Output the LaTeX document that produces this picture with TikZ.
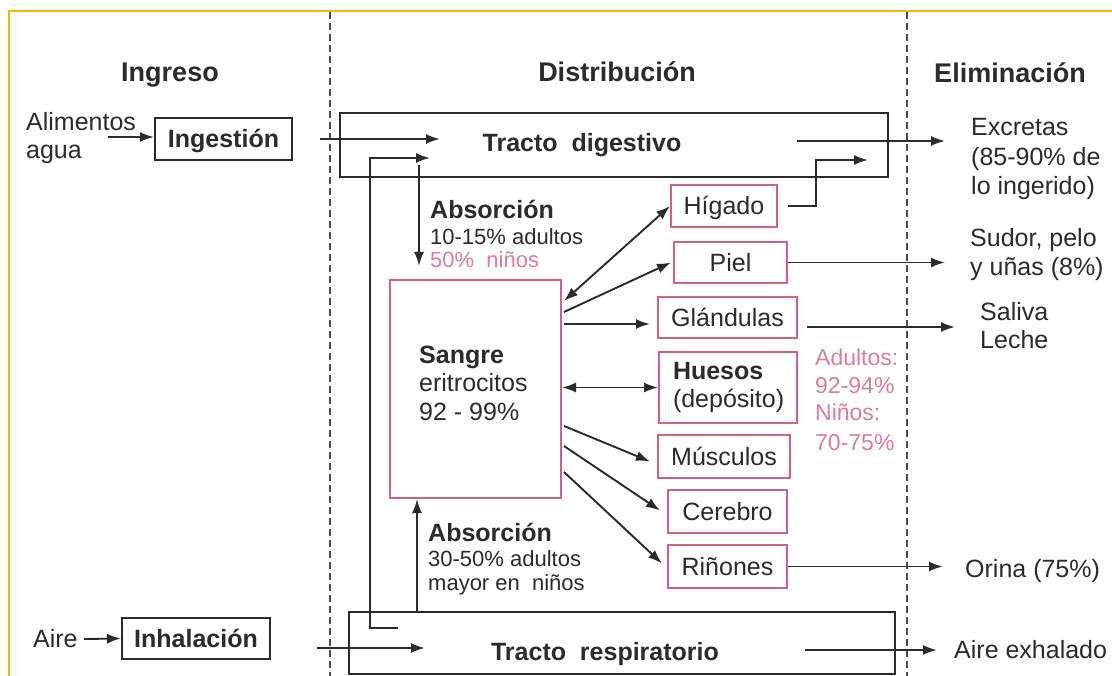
\documentclass[tikz,border=0pt]{standalone}
\usepackage{fontspec}
\setmainfont{Liberation Sans}
\usetikzlibrary{arrows.meta,calc}
\definecolor{ink}{HTML}{2B2B2B}
\definecolor{rose}{HTML}{D8607E}
\definecolor{rosetext}{HTML}{E07A9E}
\definecolor{framey}{HTML}{F5B700}
\begin{document}
\begin{tikzpicture}[x=1pt,y=-1pt,
  txt/.style={inner sep=0pt, text=ink},
  big/.style={font=\fontsize{25}{30}\selectfont, text height=18.75pt, text depth=1.25pt},
  bigb/.style={font=\fontsize{25}{30}\selectfont\bfseries, text height=18.75pt, text depth=1.25pt},
  head/.style={font=\fontsize{27}{32}\selectfont\bfseries, text height=20.25pt, text depth=1.35pt},
  small/.style={font=\fontsize{22}{26}\selectfont, text height=16.5pt, text depth=1.1pt},
  pinkt/.style={font=\fontsize{23}{27}\selectfont, text=rosetext, text height=17.25pt, text depth=1.15pt},
  blk/.style={draw=ink, line width=2pt, inner sep=0pt},
  org/.style={draw=rose, line width=2pt, inner sep=0pt},
  arr/.style={draw=ink, line width=1.9pt, -{Latex[length=14pt,width=10pt]}},
  darr/.style={draw=ink, line width=1.9pt, {Latex[length=14pt,width=10pt]}-{Latex[length=14pt,width=10pt]}},
  sep/.style={draw=ink!85, line width=1.6pt, dash pattern=on 7pt off 4pt}
]
\useasboundingbox (0,0) rectangle (1112,676);
\fill[white] (0,0) rectangle (1112,676);
% frame and separators
\draw[draw=framey, line width=2.5pt] (9,676) -- (9,11) -- (1112,11);
\draw[sep] (330,12) -- (330,676);
\draw[sep] (907,12) -- (907,676);
% headings
\node[txt,head] (hIng) at (170,72) {Ingreso};
\node[txt,head] (hDis) at (617,72) {Distribución};
\node[txt,head] (hEli) at (1010,73) {Eliminación};
% ingreso
\node[blk,txt,bigb,minimum width=137pt,minimum height=42pt] (ingest) at (223.5,139) {Ingestión};
\node[blk,txt,bigb,minimum width=148pt,minimum height=41pt] (inhal) at (196,638.5) {Inhalación};
\node[txt,big,anchor=west] (alim) at (26,122) {Alimentos};
\node[txt,big,anchor=west] (agua) at (26,150) {agua};
\node[txt,big,anchor=west] (aire) at (33,639) {Aire};
\coordinate (alimarr) at (108,137);
\draw[arr] (alimarr) -- (alimarr -| ingest.west);
\draw[arr] ($(aire.east)+(6,0)$) -- (inhal.west);
% tracts
\node[blk,minimum width=548pt,minimum height=64pt] (dig) at (614,145) {};
\node[txt,bigb] (digt) at (582,143) {Tracto~~digestivo};
\node[blk,minimum width=546pt,minimum height=62pt] (resp) at (622,643) {};
\node[txt,bigb] (respt) at (605,652) {Tracto~~respiratorio};
% sangre
\node[org,minimum width=171pt,minimum height=218pt] (sangre) at (475.5,389) {};
\node[txt,bigb,anchor=west] (s1) at (419,355) {Sangre};
\node[txt,big,anchor=west] (s2) at (419,383) {eritrocitos};
\node[txt,big,anchor=west] (s3) at (419,412) {92 - 99\%};
% organs
\node[org,txt,big,minimum width=106pt,minimum height=42pt] (higado) at (724,206) {Hígado};
\node[org,txt,big,minimum width=113pt,minimum height=41pt] (piel) at (730.5,262.5) {Piel};
\node[org,txt,big,minimum width=139pt,minimum height=41pt] (gland) at (727.5,317.5) {Glándulas};
\node[org,txt,font=\fontsize{25}{28}\selectfont,minimum width=138pt,minimum height=71pt,align=left,text width=110pt] (huesos) at (728,387.5) {\textbf{Huesos}\\(depósito)};
\node[org,txt,big,minimum width=132pt,minimum height=43pt] (musc) at (724,456.5) {Músculos};
\node[org,txt,big,minimum width=119pt,minimum height=43pt] (cereb) at (727.5,511.5) {Cerebro};
\node[org,txt,big,minimum width=119pt,minimum height=43pt] (rinon) at (727.5,566.5) {Riñones};
% absorption labels
\node[txt,bigb,anchor=west] (ab1) at (430,210) {Absorción};
\node[txt,small,anchor=west] (ab1b) at (430,237) {10-15\% adultos};
\node[txt,small,anchor=west,text=rosetext] (ab1c) at (430,260) {50\%~~niños};
\node[txt,bigb,anchor=west] (ab2) at (428,533) {Absorción};
\node[txt,small,anchor=west] (ab2b) at (428,559) {30-50\% adultos};
\node[txt,small,anchor=west] (ab2c) at (428,583) {mayor en~~niños};
% bone percentages
\node[txt,pinkt,anchor=west] (p1) at (815,357) {Adultos:};
\node[txt,pinkt,anchor=west] (p2) at (815,385) {92-94\%};
\node[txt,pinkt,anchor=west] (p3) at (815,412) {Niños:};
\node[txt,pinkt,anchor=west] (p4) at (815,442) {70-75\%};
% elimination texts
\node[txt,big,anchor=west] (e1) at (971,127) {Excretas};
\node[txt,big,anchor=west] (e2) at (971,157) {(85-90\% de};
\node[txt,big,anchor=west] (e3) at (971,186) {lo ingerido)};
\node[txt,big,anchor=west] (su1) at (970,238) {Sudor, pelo};
\node[txt,big,anchor=west] (su2) at (970,267) {y uñas (8\%)};
\node[txt,big,anchor=west] (sa1) at (980,312) {Saliva};
\node[txt,big,anchor=west] (sa2) at (980,340) {Leche};
\node[txt,big,anchor=west] (ori) at (965,569) {Orina (75\%)};
\node[txt,big,anchor=west] (exh) at (954,650) {Aire exhalado};
% coordinates for free ends
\coordinate (ingout) at (320,139);
\coordinate (digin) at (440,139);
\coordinate (respret) at (398,628);
\coordinate (digin2) at (430,158);
\coordinate (abs1s) at (419,165);
\coordinate (abs2x) at (417,0);
\coordinate (digin3) at (868,160);
\coordinate (digout) at (797,141);
\coordinate (excin) at (945,141);
\coordinate (sudin) at (945,262.5);
\coordinate (glout) at (807,327);
\coordinate (salin) at (955,327);
\coordinate (oriin) at (943,566.5);
\coordinate (respout) at (805,650);
\coordinate (exhin) at (937,650);
\coordinate (inhout) at (317,648);
\coordinate (respin) at (425,648);
% connectors
\draw[arr] (ingout) -- (digin);
\draw[arr] (inhout) -- (respin);
\draw[arr] (respret) -- ++(-28,0) |- (digin2);
\draw[arr] (abs1s) -- ($(abs1s |- sangre.north)+(0,-13)$);
\draw[arr] (resp.north -| abs2x) -- (sangre.south -| abs2x);
\draw[darr] ($(sangre.north east)+(2,22)$) -- (higado.west);
\draw[arr] ($(sangre.north east)+(2,33)$) -- ($(piel.west)+(-2,0)$);
\draw[arr] ($(sangre.north east)+(2,45)$) coordinate (g0) -- ($(g0 -| gland.west)+(-7,0)$);
\draw[darr] (huesos.west -| sangre.east) -- (huesos.west);
\draw[arr] ($(sangre.north east)+(2,147)$) -- ($(musc.west)+(-7,5)$);
\draw[arr] ($(sangre.north east)+(2,167)$) -- ($(cereb.west)+(-7,-1)$);
\draw[arr] ($(sangre.north east)+(2,193)$) -- ($(rinon.west)+(-5,-3)$);
\draw[arr] ($(higado.east)+(10,0)$) -- ++(28,0) |- (digin3);
\draw[arr] (digout) -- (excin);
\draw[arr] (piel.east) -- (sudin);
\draw[arr] (glout) -- (salin);
\draw[arr] (rinon.east) -- (oriin);
\draw[arr] (respout) -- (exhin);
\end{tikzpicture}
\end{document}
